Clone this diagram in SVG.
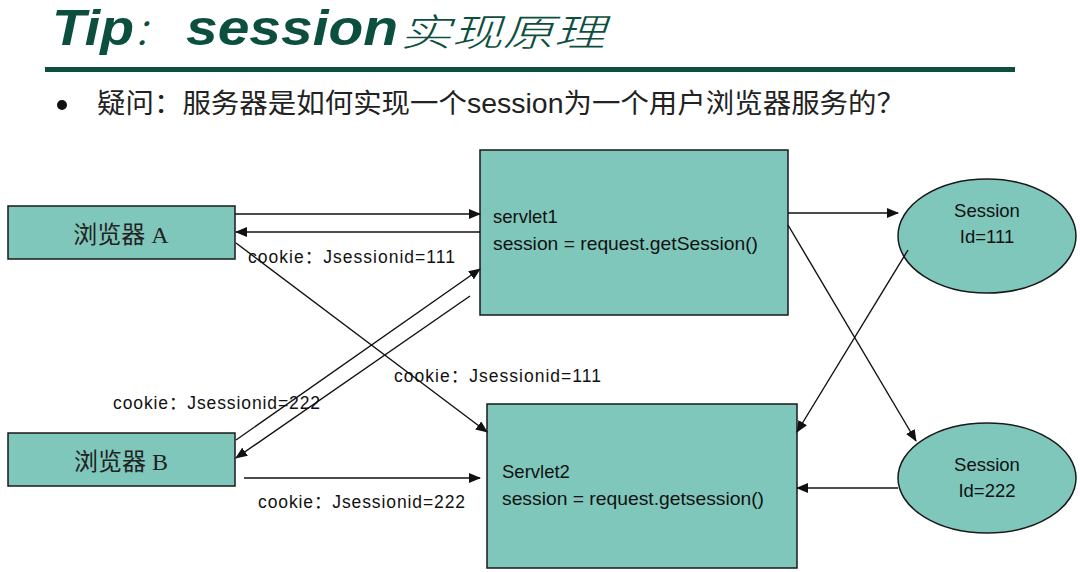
<svg xmlns="http://www.w3.org/2000/svg" width="1080" height="572" viewBox="0 0 1080 572">
<style>
.box{fill:#7fc7bb;stroke:#1a1a1a;stroke-width:1.5}
.lbl{font-family:"Liberation Sans","Noto Sans CJK SC",sans-serif;font-size:17.5px;fill:#111}
.big{font-size:18.5px}
.cjk{font-family:"Noto Sans CJK SC",serif;font-size:24px;fill:#222}
.ttl{font-family:"Liberation Sans",sans-serif;font-weight:bold;font-style:italic;font-size:50px;fill:#0d4f3f}
.ttlc{font-family:"Noto Sans CJK SC",serif;font-weight:300;font-style:italic;font-size:38px;fill:#0d4f3f}
.conn line{stroke:#111;stroke-width:1.4;marker-end:url(#ah)}
</style>
<defs>
<marker id="ah" markerUnits="userSpaceOnUse" markerWidth="12" markerHeight="10" refX="11" refY="5" orient="auto">
<path d="M0,0 L12,5 L0,10 Z" fill="#111"/>
</marker>
</defs>
<rect width="1080" height="572" fill="#fff"/>
<g id="title">
<text class="ttl" x="52" y="45" textLength="82" lengthAdjust="spacingAndGlyphs">Tip</text>
<text class="ttlc" x="132" y="45" font-size="30">：</text>
<text class="ttl" x="186" y="45" textLength="212" lengthAdjust="spacingAndGlyphs">session</text>
<text class="ttlc" x="400" y="46" textLength="205" lengthAdjust="spacingAndGlyphs">实现原理</text>
<rect x="45" y="67" width="970" height="5" fill="#0d4f3f"/>
</g>
<g id="question">
<circle cx="62" cy="105" r="5" fill="#111"/>
<text x="97" y="113" font-family="Liberation Sans,Noto Sans CJK SC,sans-serif" font-size="27" fill="#222" textLength="808" lengthAdjust="spacingAndGlyphs">疑问：服务器是如何实现一个session为一个用户浏览器服务的？</text>
</g>
<g id="browserA">
<rect class="box" x="8" y="206" width="227" height="53"/>
<text class="cjk" x="121" y="243" text-anchor="middle">浏览器<tspan font-family="Liberation Serif,serif"> A</tspan></text>
</g>
<g id="browserB">
<rect class="box" x="8" y="433" width="227" height="53"/>
<text class="cjk" x="121" y="470" text-anchor="middle">浏览器<tspan font-family="Liberation Serif,serif"> B</tspan></text>
</g>
<g id="servlet1">
<rect class="box" x="480" y="150" width="308" height="165"/>
<text class="lbl big" x="493" y="223">servlet1</text>
<text class="lbl big" x="493" y="250" textLength="265" lengthAdjust="spacingAndGlyphs">session = request.getSession()</text>
</g>
<g id="servlet2">
<rect class="box" x="487" y="404" width="310" height="164"/>
<text class="lbl big" x="502" y="478">Servlet2</text>
<text class="lbl big" x="502" y="505" textLength="262" lengthAdjust="spacingAndGlyphs">session = request.getsession()</text>
</g>
<g id="session111">
<ellipse class="box" cx="987" cy="236" rx="89" ry="57"/>
<text class="lbl big" x="987" y="217" text-anchor="middle">Session</text>
<text class="lbl big" x="987" y="243" text-anchor="middle">Id=111</text>
</g>
<g id="session222">
<ellipse class="box" cx="987" cy="478" rx="89" ry="55"/>
<text class="lbl big" x="987" y="471" text-anchor="middle">Session</text>
<text class="lbl big" x="987" y="497" text-anchor="middle">Id=222</text>
</g>
<g id="connectors" class="conn">
<line x1="235" y1="214" x2="480" y2="214"/>
<line x1="480" y1="232" x2="236" y2="232"/>
<line x1="236" y1="243" x2="487" y2="432"/>
<line x1="236" y1="440" x2="480" y2="269"/>
<line x1="470" y1="296" x2="236" y2="458"/>
<line x1="244" y1="478" x2="480" y2="478"/>
<line x1="788" y1="213" x2="898" y2="213"/>
<line x1="788" y1="225" x2="916" y2="441"/>
<line x1="908" y1="250" x2="797" y2="432"/>
<line x1="898" y1="488" x2="797" y2="488"/>
</g>
<g id="labels">
<text class="lbl" x="248" y="263" textLength="207" lengthAdjust="spacing">cookie：Jsessionid=111</text>
<text class="lbl" x="394" y="382" textLength="207" lengthAdjust="spacing">cookie：Jsessionid=111</text>
<text class="lbl" x="113" y="409" textLength="207" lengthAdjust="spacing">cookie：Jsessionid=222</text>
<text class="lbl" x="258" y="508" textLength="207" lengthAdjust="spacing">cookie：Jsessionid=222</text>
</g>
</svg>
